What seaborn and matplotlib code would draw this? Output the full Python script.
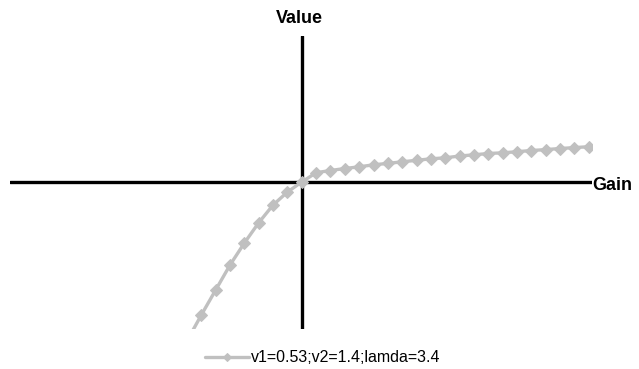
import matplotlib
matplotlib.use("Agg")
import matplotlib.pyplot as plt
import seaborn as sns
import pandas as pd

# Data (gain on x, value on y)
gain = [-8, -7, -6, -5, -4, -3, -2, -1, 0,
        1, 2, 3, 4, 5, 6, 7, 8, 9, 10,
        11, 12, 13, 14, 15, 16, 17, 18, 19, 20]
value = [-15.9, -13.3, -10.8, -8.3, -6.1, -4.07, -2.3, -1.0, 0.0,
         0.93, 1.15, 1.35, 1.52, 1.72, 1.86, 2.02, 2.17, 2.32, 2.42,
         2.6, 2.72, 2.85, 2.92, 3.03, 3.15, 3.24, 3.35, 3.44, 3.53]
series_label = "v1=0.53;v2=1.4;lamda=3.4"

df = pd.DataFrame({"Gain": gain, "Value": value})

sns.set_style("white")
plt.rcParams["font.family"] = ["Liberation Sans", "DejaVu Sans"]
plt.rcParams["text.color"] = "black"

W, H = 639, 369
fig = plt.figure(figsize=(W / 100, H / 100), dpi=100)
ax_left, ax_right, ax_top, ax_bottom = 10, 591.7, 36, 329
ax = fig.add_axes([ax_left / W, (H - ax_bottom) / H,
                   (ax_right - ax_left) / W, (ax_bottom - ax_top) / H])

ax.axhline(0, color="black", lw=2.4, zorder=1)
ax.axvline(0, color="black", lw=2.4, zorder=1)

sns.lineplot(data=df, x="Gain", y="Value", ax=ax, color="#C0C0C0",
             marker="D", markersize=6, markeredgecolor="#C0C0C0",
             linewidth=2.4, label=series_label, zorder=3)

ax.set_xlim(-20.33, 20.2)
ax.set_ylim(-14.7, 14.6)
for s in ax.spines.values():
    s.set_visible(False)
ax.set_xticks([])
ax.set_yticks([])
ax.set_xlabel("")
ax.set_ylabel("")
ax.patch.set_alpha(0)

fig.text(299 / W, 1 - 18.3 / H, "Value", ha="center", va="center",
         fontsize=13, fontweight="bold", color="black")
fig.text(592 / W, 1 - 185.5 / H, "Gain", ha="left", va="center",
         fontsize=13, fontweight="bold", color="black")

leg = ax.legend(loc="center", bbox_to_anchor=(322.5 / W, 1 - 358 / H),
                bbox_transform=fig.transFigure, frameon=False,
                fontsize=11.5, handlelength=2.8, handletextpad=0.1,
                borderpad=0, borderaxespad=0, labelcolor="black")
for h in leg.legend_handles:
    h.set_markersize(4.5)

fig.savefig("out.png", dpi=100)
